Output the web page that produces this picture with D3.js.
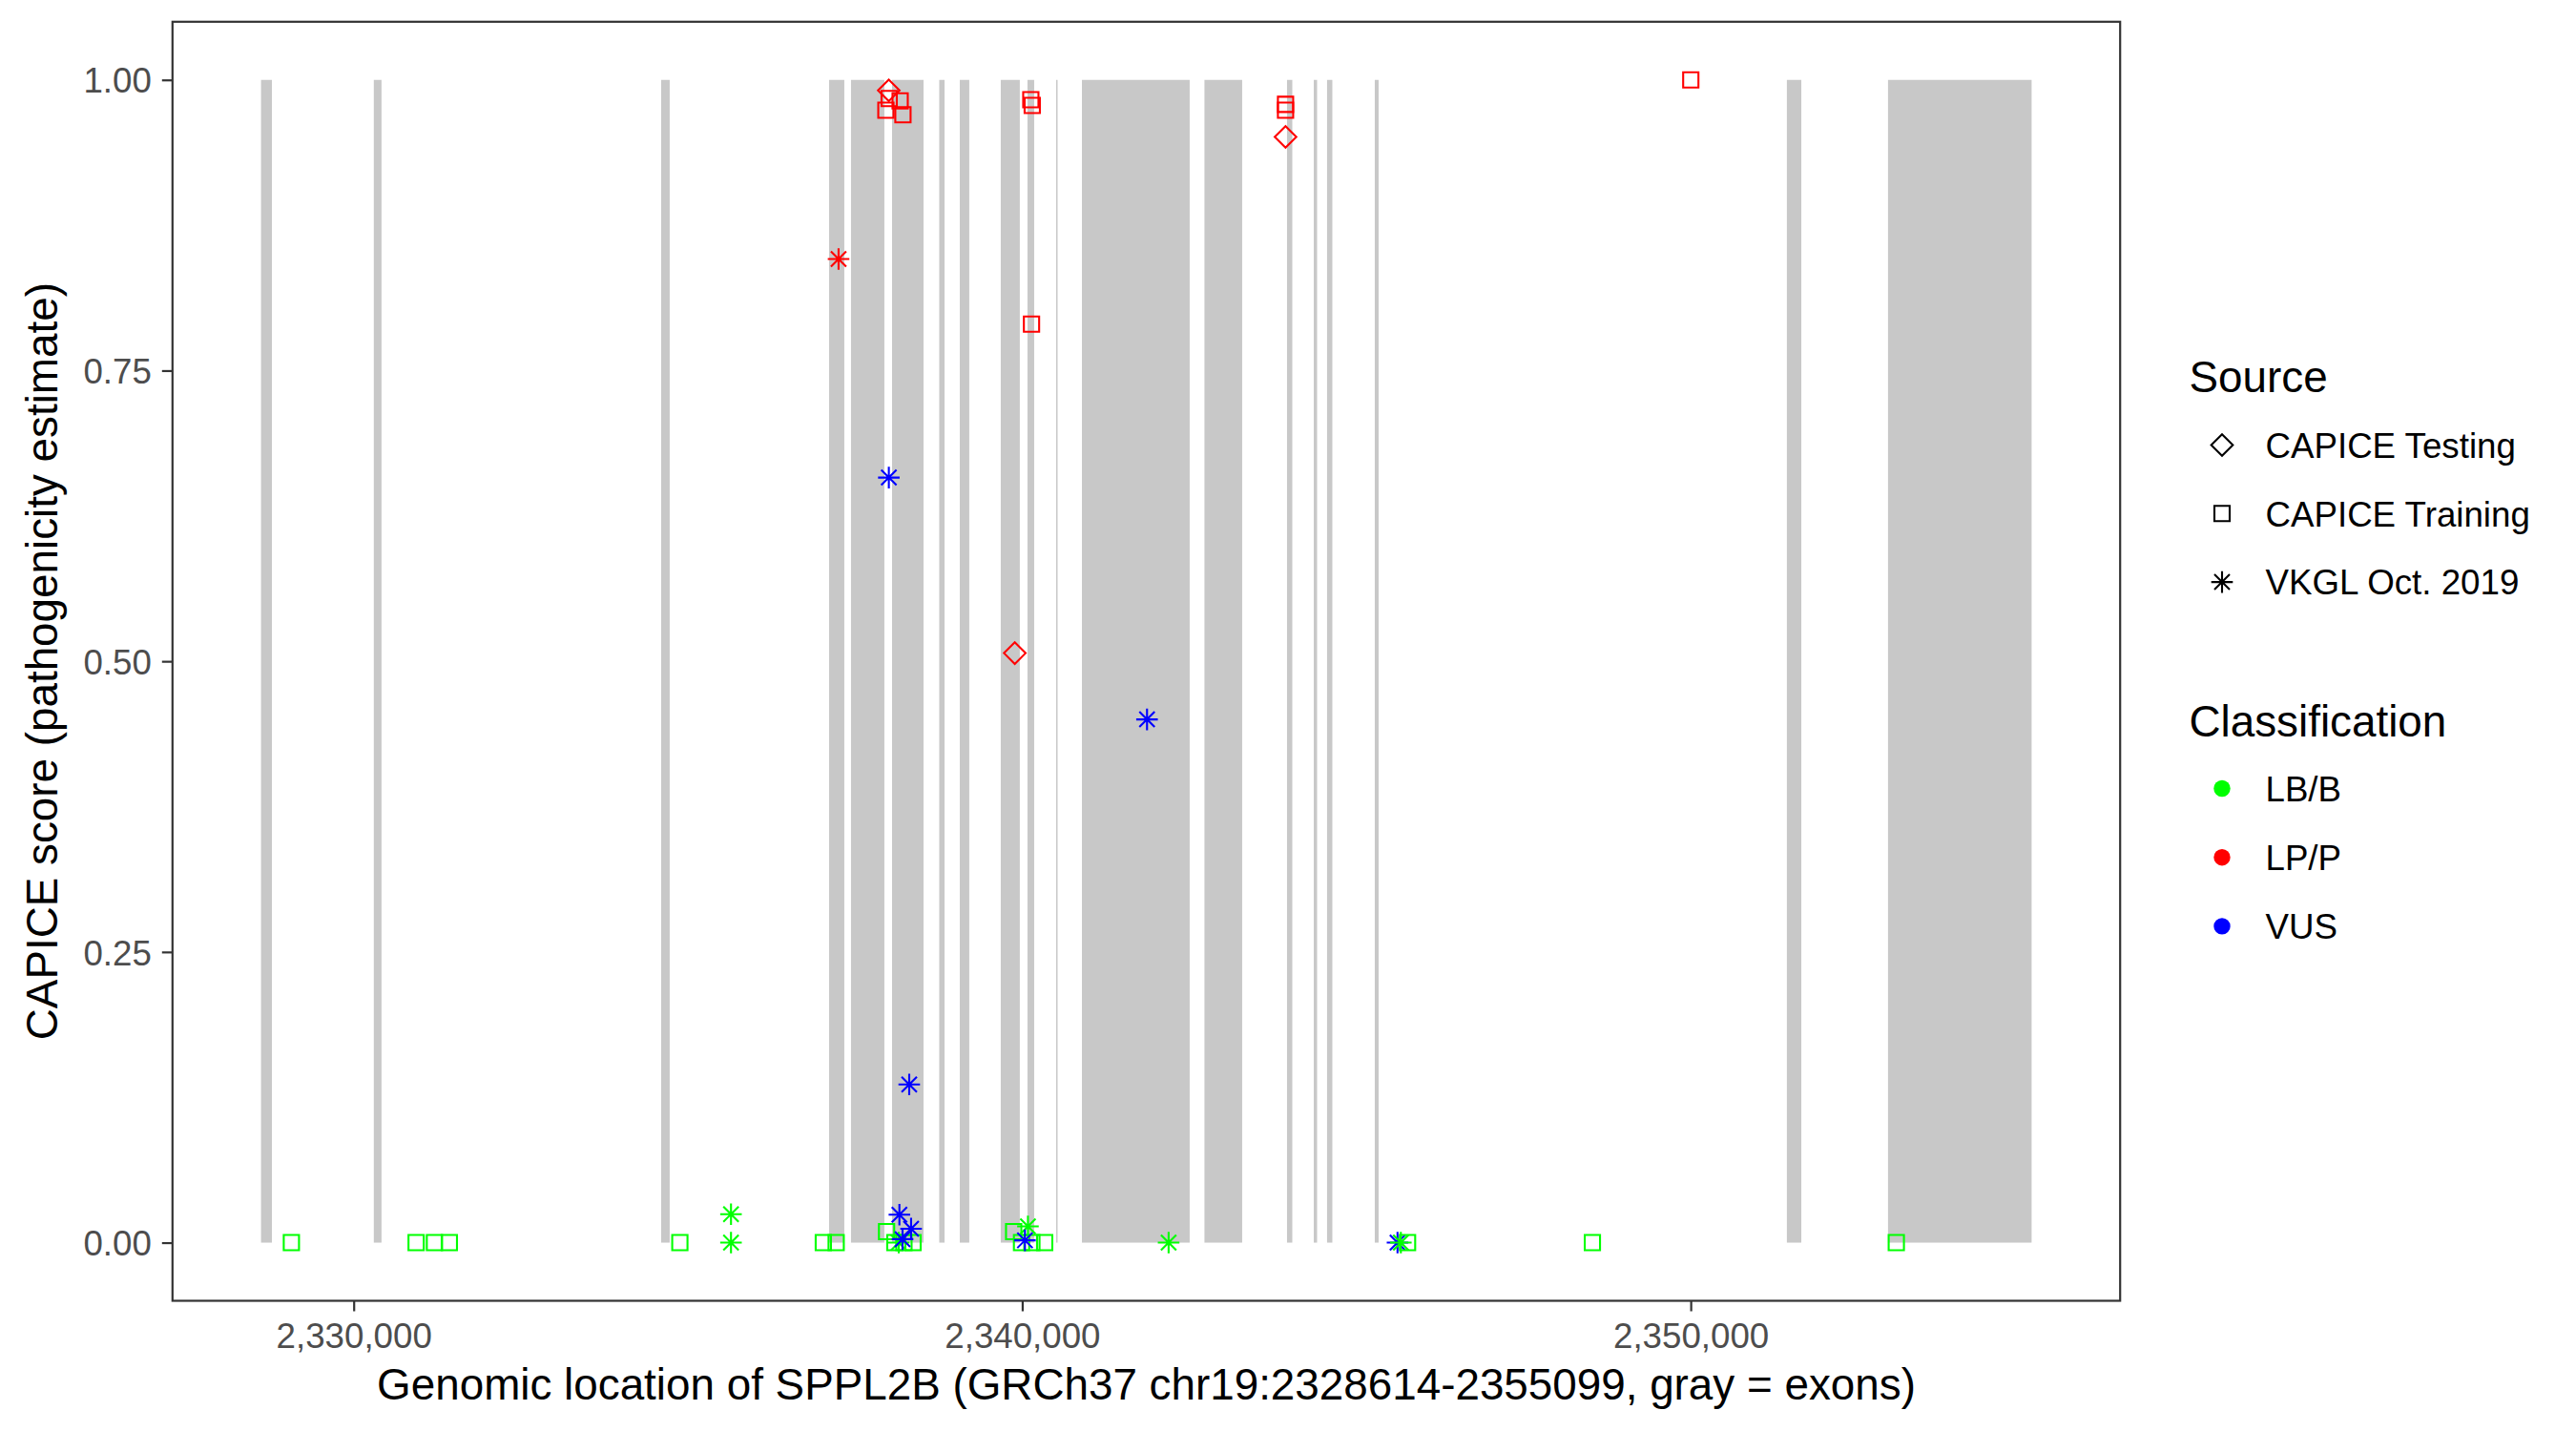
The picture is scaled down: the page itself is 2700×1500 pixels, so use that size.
<!DOCTYPE html>
<html>
<head>
<meta charset="utf-8">
<script src="https://cdn.jsdelivr.net/npm/d3@7"></script>
<style>
  body { margin: 0; background: #fff; }
  text { font-family: "Liberation Sans", Arial, Helvetica, sans-serif; }
</style>
</head>
<body>
<div id="chart"></div>
<script>
// exons of SPPL2B (gray bands)
const exonStart = [2328614, 2330301, 2334599, 2337111, 2337439, 2338053, 2338759, 2339066, 2339679, 2340079,
  2340508, 2340893, 2342726, 2343961, 2344361, 2344560, 2345274, 2351438, 2352951];
const exonEnd = [2328777, 2330416, 2334727, 2337339, 2337938, 2338524, 2338838, 2339208, 2339964, 2340179,
  2340529, 2342505, 2343290, 2344040, 2344411, 2344639, 2345331, 2351654, 2355099];

// variants, drawn in this order
const varPos = [
  2329068, 2330934, 2331208, 2331431, 2334879, 2337025, 2337217, 2338095, 2338231, 2338367,
  2339990, 2340145, 2340336, 2348529, 2353075, 2337971, 2339872,
  2335644, 2335644, 2338153, 2340086, 2342190,
  2338004, 2337961, 2338010, 2338174, 2338216, 2337253, 2340129, 2340150, 2340139, 2339889,
  2343939, 2343939, 2343939, 2350001,
  2338005, 2341867, 2338310, 2338163, 2338338, 2338210, 2340041, 2345614,
  2345664, 2345764
];
const varScore = [
  0, 0, 0, 0, 0, 0, 0, 0, 0, 0,
  0, 0, 0, 0, 0, 0.0095, 0.0095,
  0.0245, 0, 0, 0.014, 0,
  0.991, 0.974, 0.984, 0.982, 0.970, 0.846, 0.983, 0.978, 0.790, 0.507,
  0.979, 0.974, 0.951, 1.000,
  0.658, 0.450, 0.136, 0.024, 0.012, 0.003, 0.002, 0,
  0, 0
];
const varSource = [
  "Tr", "Tr", "Tr", "Tr", "Tr", "Tr", "Tr", "Tr", "Tr", "Tr",
  "Tr", "Tr", "Tr", "Tr", "Tr", "Tr", "Tr",
  "VK", "VK", "VK", "VK", "VK",
  "Te", "Tr", "Tr", "Tr", "Tr", "VK", "Tr", "Tr", "Tr", "Te",
  "Tr", "Tr", "Te", "Tr",
  "VK", "VK", "VK", "VK", "VK", "VK", "VK", "VK",
  "VK", "Tr"
];
const varClass = [
  "LB/B", "LB/B", "LB/B", "LB/B", "LB/B", "LB/B", "LB/B", "LB/B", "LB/B", "LB/B",
  "LB/B", "LB/B", "LB/B", "LB/B", "LB/B", "LB/B", "LB/B",
  "LB/B", "LB/B", "LB/B", "LB/B", "LB/B",
  "LP/P", "LP/P", "LP/P", "LP/P", "LP/P", "LP/P", "LP/P", "LP/P", "LP/P", "LP/P",
  "LP/P", "LP/P", "LP/P", "LP/P",
  "VUS", "VUS", "VUS", "VUS", "VUS", "VUS", "VUS", "VUS",
  "LB/B", "LB/B"
];

const sourceCodes = ["Te", "Tr", "VK"];
const sourceLabels = ["CAPICE Testing", "CAPICE Training", "VKGL Oct. 2019"];
const classLabels = ["LB/B", "LP/P", "VUS"];
const classColors = ["#00ff00", "#ff0000", "#0000ff"];

const xTicks = [2330000, 2340000, 2350000];
const yTicks = [0, 0.25, 0.5, 0.75, 1];

const xTitle = "Genomic location of SPPL2B (GRCh37 chr19:2328614-2355099, gray = exons)";
const yTitle = "CAPICE score (pathogenicity estimate)";

const width = 2700, height = 1500;
const panel = { left: 180.8, right: 2222.2, top: 22.8, bottom: 1363.5 };

const geneMin = d3.min(exonStart), geneMax = d3.max(exonEnd);
const pad = (geneMax - geneMin) * 0.05;

const x = d3.scaleLinear()
  .domain([geneMin - pad, geneMax + pad])
  .range([panel.left, panel.right]);
const y = d3.scaleLinear()
  .domain([-0.05, 1.05])
  .range([panel.bottom, panel.top]);
const color = d3.scaleOrdinal().domain(classLabels).range(classColors);

const R = 8, R2 = R * Math.SQRT2;
function shapePath(code) {
  if (code === "Tr") return `M${-R},${-R}h${2 * R}v${2 * R}h${-2 * R}Z`;
  if (code === "Te") return `M0,${-R2}L${R2},0L0,${R2}L${-R2},0Z`;
  return `M${-R},${-R}L${R},${R}M${-R},${R}L${R},${-R}M${-R2},0H${R2}M0,${-R2}V${R2}`;
}

const svg = d3.select("#chart").append("svg")
  .attr("width", width)
  .attr("height", height);

svg.append("rect").attr("width", width).attr("height", height).attr("fill", "#fff");

// exons
svg.append("g").selectAll("rect")
  .data(exonStart)
  .enter()
  .append("rect")
  .attr("x", (d, i) => x(d))
  .attr("width", (d, i) => x(exonEnd[i]) - x(d))
  .attr("y", y(1))
  .attr("height", y(0) - y(1))
  .attr("fill", "#c8c8c8");

// variants
svg.append("g").selectAll("path")
  .data(varPos)
  .enter()
  .append("path")
  .attr("transform", (d, i) => "translate(" + x(d) + "," + y(varScore[i]) + ")")
  .attr("d", (d, i) => shapePath(varSource[i]))
  .attr("fill", "none")
  .attr("stroke", (d, i) => color(varClass[i]))
  .attr("stroke-width", 2.1);

// axes
const xAxis = svg.append("g")
  .attr("transform", "translate(0," + panel.bottom + ")")
  .call(d3.axisBottom(x).tickValues(xTicks).tickFormat(d3.format(",")).tickSize(11));
const yAxis = svg.append("g")
  .attr("transform", "translate(" + panel.left + ",0)")
  .call(d3.axisLeft(y).tickValues(yTicks).tickFormat(d3.format(".2f")).tickSize(11));

[xAxis, yAxis].forEach(function (g) {
  g.select(".domain").remove();
  g.selectAll(".tick line").attr("stroke", "#333333").attr("stroke-width", 2.2);
  g.selectAll(".tick text")
    .attr("fill", "#4d4d4d")
    .style("font-size", "36.7px")
    .style("font-family", "'Liberation Sans', Arial, sans-serif");
});
xAxis.selectAll(".tick text").attr("y", 49.5).attr("dy", 0);
yAxis.selectAll(".tick text").attr("x", -22).attr("dy", "0.36em");

// panel border
svg.append("rect")
  .attr("x", panel.left)
  .attr("y", panel.top)
  .attr("width", panel.right - panel.left)
  .attr("height", panel.bottom - panel.top)
  .attr("fill", "none")
  .attr("stroke", "#333333")
  .attr("stroke-width", 2.2);

// axis titles
svg.append("text")
  .attr("x", (panel.left + panel.right) / 2)
  .attr("y", 1467)
  .attr("text-anchor", "middle")
  .style("font-size", "45.8px")
  .text(xTitle);

svg.append("text")
  .attr("transform", "translate(60," + (panel.top + panel.bottom) / 2 + ") rotate(-90)")
  .attr("text-anchor", "middle")
  .style("font-size", "45.8px")
  .text(yTitle);

// legend: Source
const leg = svg.append("g");
leg.append("text")
  .attr("x", 2294.5).attr("y", 411)
  .style("font-size", "45.8px")
  .text("Source");

const srcItems = leg.selectAll(".src")
  .data(sourceCodes)
  .enter()
  .append("g")
  .attr("class", "src")
  .attr("transform", (d, i) => "translate(2329," + (466.5 + i * 71.8) + ")");
srcItems.append("path")
  .attr("d", d => shapePath(d))
  .attr("fill", "none")
  .attr("stroke", "#000")
  .attr("stroke-width", 2.1);
srcItems.append("text")
  .attr("x", 45.5)
  .attr("dy", "0.36em")
  .style("font-size", "36.7px")
  .text((d, i) => sourceLabels[i]);

// legend: Classification
leg.append("text")
  .attr("x", 2294.5).attr("y", 772)
  .style("font-size", "45.8px")
  .text("Classification");

const clsItems = leg.selectAll(".cls")
  .data(classLabels)
  .enter()
  .append("g")
  .attr("class", "cls")
  .attr("transform", (d, i) => "translate(2329," + (826.5 + i * 72.2) + ")");
clsItems.append("circle")
  .attr("r", 8.7)
  .attr("fill", d => color(d));
clsItems.append("text")
  .attr("x", 45.5)
  .attr("dy", "0.36em")
  .style("font-size", "36.7px")
  .text(d => d);
</script>
</body>
</html>
